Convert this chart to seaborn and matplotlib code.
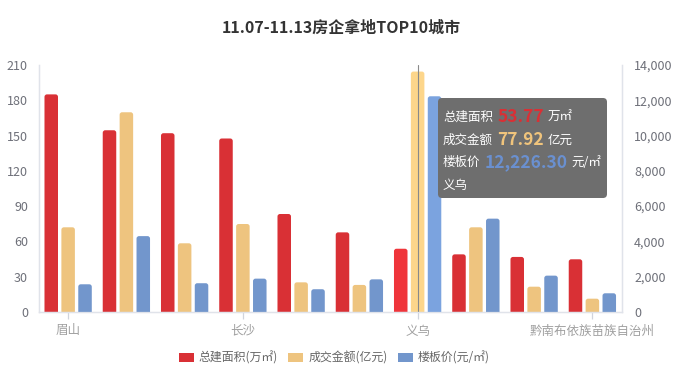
import numpy as np
import pandas as pd
import matplotlib.pyplot as plt
import seaborn as sns
from matplotlib.patches import Patch, FancyBboxPatch

# data (only every 3rd city label is shown)
cities = ['眉山', 'c2', 'c3', '长沙', 'c5', 'c6', '义乌', 'c8', 'c9', '黔南布依族苗族自治州']
tick_labels = ['眉山', '', '', '长沙', '', '', '义乌', '', '', '黔南布依族苗族自治州']
area = [185.0, 154.5, 152.0, 147.5, 83.3, 67.7, 53.77, 49.0, 46.8, 44.8]       # 万㎡
amount = [72.0, 169.8, 58.4, 74.8, 25.2, 23.0, 204.4, 72.0, 21.5, 11.3]        # 亿元
price = [1570, 4300, 1630, 1890, 1290, 1850, 12226.3, 5290, 2060, 1060]        # 元/㎡

series = ['总建面积(万㎡)', '成交金额(亿元)', '楼板价(元/㎡)']
colors = ['#d93035', '#eec47f', '#7296cc']
hover = {'#d93035': '#ef353b', '#eec47f': '#fdd68b', '#7296cc': '#7ba3df'}

sns.set_theme(style='white')
plt.rcParams['font.family'] = ['Noto Sans CJK SC', 'DejaVu Sans']

df = pd.DataFrame({
    'city': cities * 3,
    'series': np.repeat(series, len(cities)),
    'value': area + amount + price,
})
# left axis gets area + amount, right axis gets price; keep all 3 hue slots
left = df.copy()
left.loc[left['series'] == series[2], 'value'] = np.nan
right = df.copy()
right.loc[right['series'] != series[2], 'value'] = np.nan

fig = plt.figure(figsize=(6.82, 3.8), dpi=100)
ax = fig.add_axes([0.0572, 0.179, 0.8541, 0.650])
ax2 = ax.twinx()

kw = dict(x='city', y='value', hue='series', hue_order=series, order=cities,
          palette=colors, width=0.87, gap=0.2, errorbar=None, legend=False,
          saturation=1)
sns.barplot(data=left, ax=ax, **kw)
sns.barplot(data=right, ax=ax2, **kw)

ax.set_ylim(0, 210)
ax2.set_ylim(0, 14000)
ax.set_xlim(-0.5, 9.5)


def round_tops(a, ymax):
    # swap the flat rectangles for ones with ~2.5px rounded corners
    w_px, h_px = 0.8541 * 682, 0.650 * 380
    aspect = (ymax / h_px) / (10 / w_px)
    r = 2.5 * 10 / w_px
    for p in list(a.patches):
        h = p.get_height()
        if not np.isfinite(h) or h <= 0:
            p.remove()
            continue
        fc = '#%02x%02x%02x' % tuple(int(round(c * 255)) for c in p.get_facecolor()[:3])
        x0 = p.get_x()
        if abs(x0 + p.get_width() / 2 - 6) < 0.5:  # hovered 义乌
            fc = hover.get(fc, fc)
        nb = FancyBboxPatch((x0, -r * aspect), p.get_width(), h + r * aspect,
                            boxstyle=f'round,pad=0,rounding_size={r}',
                            mutation_aspect=aspect, facecolor=fc,
                            edgecolor='none', zorder=p.get_zorder())
        p.remove()
        a.add_patch(nb)


round_tops(ax, 210)
round_tops(ax2, 14000)
ax2.axvline(6, color='#8a8a8a', lw=0.8, zorder=5)

ax.set_yticks(range(0, 211, 30))
ax2.set_yticks(range(0, 14001, 2000))
ax2.set_yticklabels([f'{v:,}' for v in range(0, 14001, 2000)])
ax.set_xticks([0, 3, 6, 9])
ax.set_xticklabels([tick_labels[i] for i in [0, 3, 6, 9]])
for a in (ax, ax2):
    a.set_xlabel('')
    a.set_ylabel('')
    a.grid(False)
    for s in a.spines.values():
        s.set_color('#e0e3ea')
        s.set_linewidth(0.9)
        s.set_zorder(6)
    a.spines['top'].set_visible(False)
ax.tick_params(axis='y', length=0, pad=8, labelsize=9, labelcolor='#6e7079')
ax2.tick_params(axis='y', length=0, pad=9, labelsize=9, labelcolor='#6e7079')
ax.tick_params(axis='x', length=5, width=0.9, color='#d0d4dc', pad=4,
               labelsize=9, labelcolor='#a0a0a0', bottom=True)

fig.text(0.5, 0.926, '11.07-11.13房企拿地TOP10城市', ha='center', va='center',
         fontsize=11.5, fontweight='bold', color='#333333')

handles = [Patch(facecolor=c, edgecolor='none', label=s) for c, s in zip(colors, series)]
fig.legend(handles=handles, loc='center', bbox_to_anchor=(0.49, 0.058), ncol=3,
           frameon=False, fontsize=8.6, handlelength=1.25, handleheight=0.75,
           handletextpad=0.4, columnspacing=0.9, labelcolor='#666666')

# tooltip on an overlay axes in pixel-like coords
tip = fig.add_axes([0, 0, 1, 1], zorder=10)
tip.set_xlim(0, 682)
tip.set_ylim(380, 0)
tip.axis('off')
tip.patch.set_alpha(0)
tip.add_patch(FancyBboxPatch((438, 98), 169, 100,
                             boxstyle='round,pad=0,rounding_size=4',
                             facecolor='#6e6e6e', edgecolor='none'))
rows = [('总建面积', '53.77', '万㎡', colors[0], 117),
        ('成交金额', '77.92', '亿元', '#f0c47c', 140),
        ('楼板价', '12,226.30', '元/㎡', '#6a90d0', 162)]
for lab, val, unit, col, py in rows:
    t = tip.text(443, py, lab, color='white', fontsize=9, va='center', ha='left')
    v = tip.annotate(val, xy=(1, 0.5), xycoords=t, xytext=(3, 0),
                     textcoords='offset points', va='center', ha='left',
                     color=col, fontsize=12.5, fontweight='bold')
    tip.annotate(unit, xy=(1, 0.5), xycoords=v, xytext=(3, 0),
                 textcoords='offset points', va='center', ha='left',
                 color='white', fontsize=9)
tip.text(443, 185, '义乌', color='white', fontsize=9, va='center', ha='left')

fig.savefig('out.png', dpi=100)
